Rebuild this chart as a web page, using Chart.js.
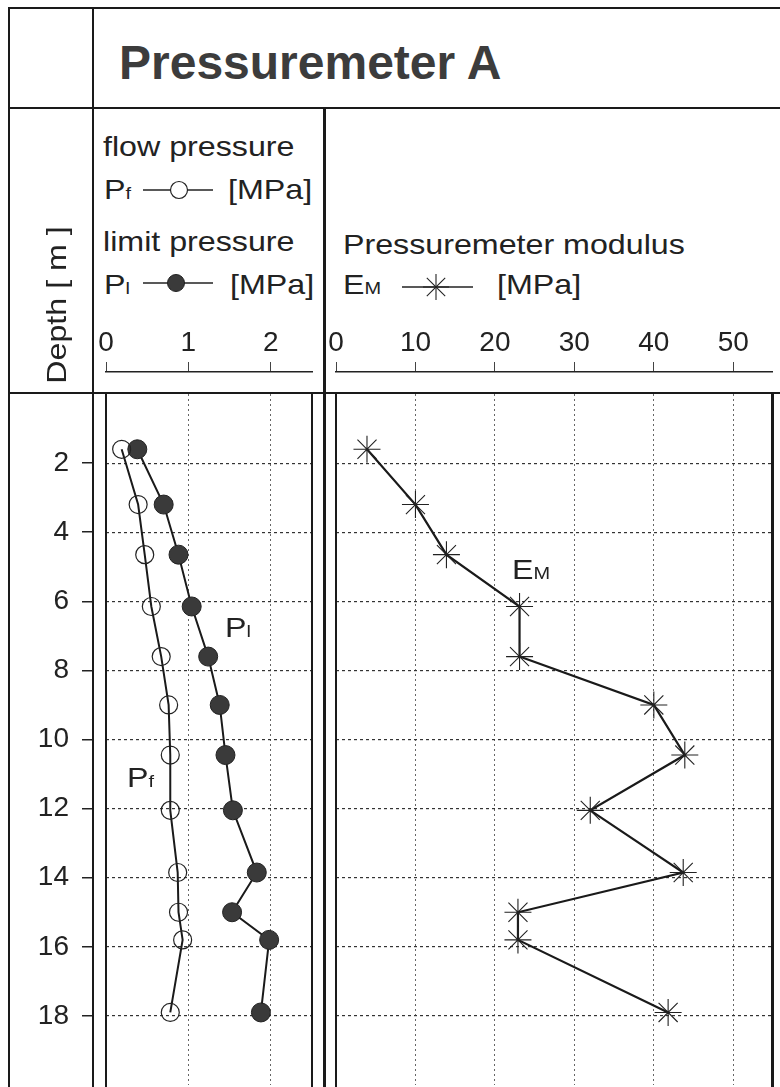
<!DOCTYPE html>
<html lang="en">
<head>
    <meta charset="UTF-8">
    <title>Pressuremeter A</title>
    <script src="https://cdn.jsdelivr.net/npm/chart.js"></script>
    <style>
        body { margin: 0; background: #fff; }
        #page { position: relative; width: 780px; height: 1087px; overflow: hidden; font-family: "Liberation Sans", Arial, sans-serif; color: #222; }
        canvas { position: absolute; }
        .t { position: absolute; font-size: 28px; line-height: 28px; white-space: nowrap; transform: scaleX(1.15); transform-origin: left top; }
        .t small { font-size: 62%; }
        .ln { position: absolute; background: #1a1a1a; }
        svg { position: absolute; overflow: visible; }
    </style>
</head>
<body>
<div id="page">
    <canvas id="depthAxis" width="74" height="691" style="left:20px;top:394px"></canvas>
    <canvas id="pressureAxis" width="246" height="42" style="left:86px;top:332px"></canvas>
    <canvas id="modulusAxis" width="457" height="42" style="left:316px;top:332px"></canvas>
    <canvas id="pressureChart" width="206" height="691" style="left:106px;top:394px"></canvas>
    <canvas id="modulusChart" width="437" height="691" style="left:336px;top:394px"></canvas>

    <!-- cadre du tableau -->
    <div class="ln" style="left:8px;top:7px;width:772px;height:2px"></div>
    <div class="ln" style="left:8px;top:107px;width:772px;height:2px"></div>
    <div class="ln" style="left:8px;top:392px;width:772px;height:2px"></div>
    <div class="ln" style="left:8px;top:7px;width:2px;height:1080px"></div>
    <div class="ln" style="left:92px;top:7px;width:2px;height:1080px"></div>
    <div class="ln" style="left:323px;top:108px;width:3px;height:979px"></div>
    <div class="ln" style="left:105px;top:393px;width:2px;height:694px"></div>
    <div class="ln" style="left:311px;top:393px;width:2px;height:694px"></div>
    <div class="ln" style="left:335px;top:393px;width:2px;height:694px"></div>
    <div class="ln" style="left:771px;top:393px;width:3px;height:694px"></div>

    <div style="position:absolute;left:119px;top:39px;font-size:48px;line-height:48px;font-weight:bold;color:#3c3c3c;white-space:nowrap">Pressuremeter A</div>

    <div style="position:absolute;left:-43px;top:290px;width:200px;height:30px;line-height:30px;font-size:28px;text-align:center;transform:rotate(-90deg) scaleX(1.15)">Depth [ m ]</div>

    <div class="t" style="left:103px;top:133px">flow pressure</div>
    <div class="t" style="left:104px;top:176px">P<small>f</small></div>
    <svg style="left:143px;top:180px" width="70" height="20">
        <line x1="0" y1="10" x2="70" y2="10" stroke="#222" stroke-width="1.6"/>
        <circle cx="36" cy="10" r="8.5" fill="#fff" stroke="#222" stroke-width="1.2"/>
    </svg>
    <div class="t" style="left:228px;top:176px">[MPa]</div>

    <div class="t" style="left:103px;top:228px">limit pressure</div>
    <div class="t" style="left:104px;top:271px">P<small>l</small></div>
    <svg style="left:143px;top:273px" width="70" height="20">
        <line x1="0" y1="10" x2="70" y2="10" stroke="#222" stroke-width="1.6"/>
        <circle cx="33" cy="10" r="8.5" fill="#3a3a3a" stroke="#222" stroke-width="1"/>
    </svg>
    <div class="t" style="left:230px;top:271px">[MPa]</div>

    <div class="t" style="left:343px;top:231px">Pressuremeter modulus</div>
    <div class="t" style="left:343px;top:271px">E<small>M</small></div>
    <svg style="left:402px;top:277px" width="71" height="20">
        <line x1="0" y1="10" x2="71" y2="10" stroke="#222" stroke-width="1.6"/>
        <g stroke="#222" stroke-width="1.1">
            <line x1="34" y1="-3" x2="34" y2="23"/>
            <line x1="21" y1="10" x2="47" y2="10"/>
            <line x1="24.8" y1="0.8" x2="43.2" y2="19.2"/>
            <line x1="24.8" y1="19.2" x2="43.2" y2="0.8"/>
        </g>
    </svg>
    <div class="t" style="left:497px;top:271px">[MPa]</div>

    <div class="t" style="left:225px;top:614px">P<small>l</small></div>
    <div class="t" style="left:127px;top:764px">P<small>f</small></div>
    <div class="t" style="left:512px;top:556px">E<small>M</small></div>
</div>

<script>
    // profondeurs des essais [m]
    const depths = [1.6, 3.2, 4.65, 6.15, 7.6, 9.0, 10.45, 12.05, 13.85, 15.0, 15.8, 17.9];
    // pression de fluage Pf [MPa]
    const flowPressure = [0.19, 0.39, 0.47, 0.55, 0.67, 0.76, 0.78, 0.78, 0.87, 0.88, 0.93, 0.78];
    // pression limite Pl [MPa]
    const limitPressure = [0.38, 0.70, 0.88, 1.04, 1.24, 1.38, 1.45, 1.54, 1.83, 1.53, 1.98, 1.88];
    // module pressiométrique EM [MPa]
    const modulus = [3.9, 10.0, 13.9, 23.1, 23.1, 40.0, 43.9, 32.0, 43.7, 22.9, 22.9, 41.8];

    // graduations
    const depthTicks = [2, 4, 6, 8, 10, 12, 14, 16, 18];
    const pressureTicks = [0, 1, 2];
    const modulusTicks = [0, 10, 20, 30, 40, 50];

    const depthRange = { min: 0, max: 20 };
    const pressureRange = { min: 0, max: 2.5 };
    const modulusRange = { min: 0, max: 55 };

    const tickFont = { family: "Liberation Sans", size: 28 };

    function fixedTicks(values) {
        return scale => { scale.ticks = values.map(v => ({ value: v })); };
    }

    // pas de marge automatique autour des étiquettes
    function noPadding(scale) {
        scale.paddingTop = 0;
        scale.paddingBottom = 0;
        scale.paddingLeft = 0;
        scale.paddingRight = 0;
    }

    function points(xs) {
        return depths.map((d, i) => ({ x: xs[i], y: d }));
    }

    const common = {
        responsive: false,
        animation: false,
        events: [],
        layout: { padding: 0, autoPadding: false },
        plugins: { legend: { display: false }, tooltip: { enabled: false } }
    };

    // axe des profondeurs (colonne de gauche)
    new Chart(document.getElementById('depthAxis'), {
        type: 'scatter',
        data: { datasets: [] },
        options: {
            ...common,
            scales: {
                x: { display: false },
                y: {
                    ...depthRange,
                    reverse: true,
                    afterBuildTicks: fixedTicks(depthTicks),
                    afterFit: s => { s.width = 72; noPadding(s); },
                    ticks: { font: tickFont, color: '#222', padding: 13 },
                    grid: { drawOnChartArea: false, tickLength: 10, color: '#222', lineWidth: 1.5 },
                    border: { display: false }
                }
            }
        }
    });

    // échelles en tête des colonnes
    function headerAxis(id, range, values, pad) {
        new Chart(document.getElementById(id), {
            type: 'scatter',
            data: { datasets: [] },
            options: {
                ...common,
                layout: { padding: pad, autoPadding: false },
                scales: {
                    x: {
                        ...range,
                        position: 'top',
                        afterBuildTicks: fixedTicks(values),
                        afterFit: s => { s.height = 40; noPadding(s); },
                        ticks: { font: tickFont, color: '#222', padding: 2, maxRotation: 0 },
                        grid: { drawOnChartArea: false, tickLength: 10, color: '#444', lineWidth: 1 },
                        border: { display: true, color: '#222', width: 1.5 }
                    },
                    y: { display: false }
                }
            }
        });
    }
    headerAxis('pressureAxis', pressureRange, pressureTicks, { left: 20, right: 20, top: 0, bottom: 0 });
    headerAxis('modulusAxis', modulusRange, modulusTicks, { left: 20, right: 0, top: 0, bottom: 0 });

    function plotScales(xRange, xTicks) {
        return {
            x: {
                ...xRange,
                afterBuildTicks: fixedTicks(xTicks),
                ticks: { display: false },
                grid: { drawTicks: false, color: '#666', lineWidth: 1 },
                border: { display: false, dash: [2, 3] }
            },
            y: {
                ...depthRange,
                reverse: true,
                afterBuildTicks: fixedTicks(depthTicks),
                ticks: { display: false },
                grid: { drawTicks: false, color: '#333', lineWidth: 1.2 },
                border: { display: false, dash: [3, 3] }
            }
        };
    }

    // Pf et Pl
    new Chart(document.getElementById('pressureChart'), {
        type: 'scatter',
        data: {
            datasets: [{
                label: 'Pf',
                data: points(flowPressure),
                showLine: true,
                borderColor: '#1a1a1a',
                borderWidth: 2,
                pointStyle: 'circle',
                pointRadius: 9,
                pointBorderWidth: 1.2,
                pointBorderColor: '#222',
                pointBackgroundColor: 'rgba(255,255,255,0)'
            }, {
                label: 'Pl',
                data: points(limitPressure),
                showLine: true,
                borderColor: '#1a1a1a',
                borderWidth: 2,
                pointStyle: 'circle',
                pointRadius: 9.5,
                pointBorderWidth: 1,
                pointBorderColor: '#222',
                pointBackgroundColor: '#3a3a3a'
            }]
        },
        options: { ...common, clip: false, scales: plotScales(pressureRange, pressureTicks) }
    });

    // EM
    new Chart(document.getElementById('modulusChart'), {
        type: 'scatter',
        data: {
            datasets: [{
                label: 'EM',
                data: points(modulus),
                showLine: true,
                borderColor: '#1a1a1a',
                borderWidth: 2.2,
                pointStyle: 'star',
                pointRadius: 13.5,
                pointBorderWidth: 1.1,
                pointBorderColor: '#222',
                pointBackgroundColor: '#222'
            }]
        },
        options: { ...common, clip: false, scales: plotScales(modulusRange, modulusTicks) }
    });
</script>
</body>
</html>
